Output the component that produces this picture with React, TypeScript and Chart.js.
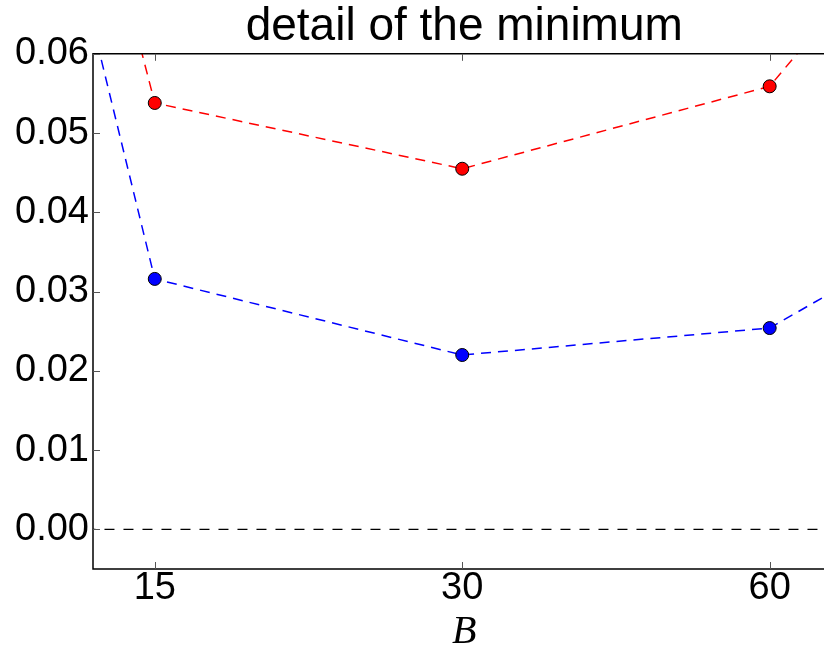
import React, { useEffect, useRef } from 'react';
import { Chart, registerables } from 'chart.js';

Chart.register(...registerables);

// ---- data ----
const B = [7.5, 15, 30, 60, 120];
const redErr = [0.204, 0.0538, 0.0455, 0.0559, 0.102];
const blueErr = [0.1905, 0.0316, 0.022, 0.0254, 0.0477];
const zeroX = [5, 200];
const zeroY = [0, 0];
const xTicks = [15, 30, 60];
const yTicks = [0, 0.01, 0.02, 0.03, 0.04, 0.05, 0.06];
const xRange = [13.05, 69.6];
const yRange = [-0.005, 0.06];
const titleText = 'detail of the minimum';
const xLabel = 'B';

const spinesPlugin = {
  id: 'spines',
  afterDatasetsDraw(chart: any) {
    const { ctx, chartArea: a, scales } = chart;
    ctx.save();
    ctx.strokeStyle = '#000';
    ctx.lineWidth = 1.5;
    ctx.beginPath();
    ctx.moveTo(a.right, a.top);
    ctx.lineTo(a.left, a.top);
    ctx.lineTo(a.left, a.bottom);
    ctx.lineTo(a.right, a.bottom);
    ctx.stroke();
    ctx.lineWidth = 1;
    ctx.strokeStyle = '#555';
    ctx.beginPath();
    for (const v of xTicks) {
      const x = Math.round(scales.x.getPixelForValue(v)) + 0.5;
      ctx.moveTo(x, a.bottom);
      ctx.lineTo(x, a.bottom - 7);
      ctx.moveTo(x, a.top);
      ctx.lineTo(x, a.top + 7);
    }
    for (const v of yTicks) {
      const y = Math.round(scales.y.getPixelForValue(v)) + 0.5;
      ctx.moveTo(a.left, y);
      ctx.lineTo(a.left + 7, y);
      ctx.moveTo(a.right, y);
      ctx.lineTo(a.right - 7, y);
    }
    ctx.stroke();
    ctx.restore();
  },
};

export default function App() {
  const ref = useRef<HTMLCanvasElement | null>(null);

  useEffect(() => {
    document.body.style.margin = '0';
    const canvas = ref.current!;
    const toXY = (xs: number[], ys: number[]) => xs.map((x, i) => ({ x, y: ys[i] }));
    const chart = new Chart(canvas, {
      type: 'line',
      data: {
        datasets: [
          {
            label: 'zero',
            data: toXY(zeroX, zeroY),
            borderColor: '#000',
            borderWidth: 1.3,
            borderDash: [10, 9],
            pointRadius: 0,
            fill: false,
          },
          {
            label: 'red',
            data: toXY(B, redErr),
            borderColor: '#ff0000',
            borderWidth: 1.5,
            borderDash: [10, 7],
            pointRadius: 6.5,
            pointBackgroundColor: '#ff0000',
            pointBorderColor: '#000',
            pointBorderWidth: 1,
            fill: false,
          },
          {
            label: 'blue',
            data: toXY(B, blueErr),
            borderColor: '#0000ff',
            borderWidth: 1.5,
            borderDash: [10, 7],
            pointRadius: 6.5,
            pointBackgroundColor: '#0000ff',
            pointBorderColor: '#000',
            pointBorderWidth: 1,
            fill: false,
          },
        ],
      },
      options: {
        responsive: false,
        animation: false,
        devicePixelRatio: 1,
        events: [],
        layout: { padding: { top: 0, right: 1, left: 0, bottom: 0 } },
        plugins: {
          legend: { display: false },
          tooltip: { enabled: false },
          title: {
            display: true,
            text: titleText,
            fullSize: false,
            color: '#000',
            font: { family: 'Liberation Sans, Arial, sans-serif', size: 46, weight: 'normal', lineHeight: 1.17 },
            padding: { top: 0, bottom: 0 },
          },
        },
        scales: {
          x: {
            type: 'logarithmic',
            min: xRange[0],
            max: xRange[1],
            grid: { display: false, drawTicks: false },
            border: { display: false },
            afterBuildTicks: (s: any) => {
              s.ticks = xTicks.map((v) => ({ value: v }));
            },
            afterFit: (s: any) => {
              s.height = 76;
            },
            ticks: {
              color: '#000',
              padding: -3,
              maxRotation: 0,
              autoSkip: false,
              font: { family: 'Liberation Sans, Arial, sans-serif', size: 38 },
              callback: (v: any) => String(v),
            },
            title: {
              display: true,
              text: xLabel,
              color: '#000',
              font: { family: 'Liberation Serif, serif', size: 40, style: 'italic', lineHeight: 1 },
              padding: { top: 0, bottom: -7 },
            },
          },
          y: {
            type: 'linear',
            min: yRange[0],
            max: yRange[1],
            grid: { display: false, drawTicks: false },
            border: { display: false },
            afterBuildTicks: (s: any) => {
              s.ticks = yTicks.map((v) => ({ value: v }));
            },
            afterFit: (s: any) => {
              s.width = 93;
            },
            ticks: {
              color: '#000',
              padding: 4,
              font: { family: 'Liberation Sans, Arial, sans-serif', size: 38 },
              callback: (v: any) => Number(v).toFixed(2),
            },
          },
        },
      },
      plugins: [spinesPlugin],
    });
    return () => chart.destroy();
  }, []);

  return (
    <div style={{ width: 824, height: 645, overflow: 'hidden', background: '#fff' }}>
      <canvas ref={ref} width={843} height={645} style={{ display: 'block' }} />
    </div>
  );
}
